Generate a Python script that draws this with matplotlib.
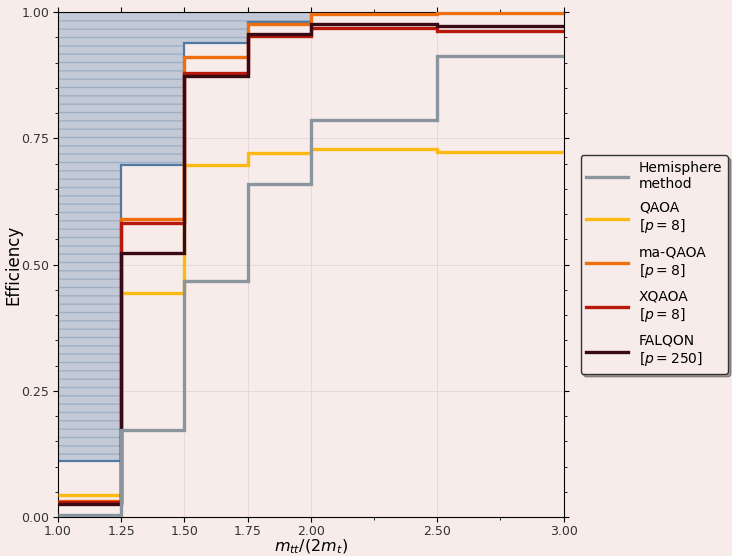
import matplotlib
matplotlib.use("Agg")
import matplotlib.pyplot as plt
import numpy as np

# bin edges in m_tt / (2 m_t)
edges = [1.0, 1.25, 1.5, 1.75, 2.0, 2.5, 3.0]

# efficiency per bin
bound = [0.111, 0.698, 0.940, 0.981, 1.0, 1.0]
hemisphere = [0.005, 0.172, 0.467, 0.659, 0.786, 0.913]
qaoa = [0.043, 0.444, 0.697, 0.721, 0.730, 0.723]
ma_qaoa = [0.032, 0.590, 0.912, 0.977, 0.997, 0.999]
xqaoa = [0.029, 0.582, 0.880, 0.953, 0.968, 0.963]
falqon = [0.025, 0.524, 0.874, 0.957, 0.976, 0.973]

labels = ["Hemisphere\nmethod", "QAOA\n[$p = 8$]", "ma-QAOA\n[$p = 8$]",
          "XQAOA\n[$p = 8$]", "FALQON\n[$p = 250$]"]
colors = ["#8a959d", "#fdb913", "#ef6e0e", "#b8180c", "#3a0a14"]

bg = "#f7ecea"
fig = plt.figure(figsize=(7.32, 5.56), dpi=100, facecolor=bg)
ax = fig.add_axes([0.079, 0.070, 0.691, 0.908], facecolor=bg)

# shaded region above the upper bound
ax.stairs(np.ones(len(bound)), edges, baseline=bound, fill=True,
          facecolor="#c3c9d6", edgecolor="#9fb0c6", hatch="--", linewidth=0, zorder=1)
ax.stairs(bound, edges, baseline=None, color="#4f7aa3", linewidth=1.6, zorder=2)

series = [hemisphere, qaoa, ma_qaoa, xqaoa, falqon]
zorders = [7, 3, 4, 5, 6]
for vals, lab, col, z in zip(series, labels, colors, zorders):
    ax.stairs(vals, edges, baseline=None, color=col, linewidth=2.4, label=lab, zorder=z)

ax.set_xlim(1.0, 3.0)
ax.set_ylim(0.0, 1.0)
ax.set_xticks([1.0, 1.25, 1.5, 1.75, 2.0, 2.5, 3.0])
ax.set_xticks([2.25, 2.75], minor=True)
ax.set_yticks([0.0, 0.25, 0.5, 0.75, 1.0])
ax.set_yticks(np.arange(0.05, 1.0, 0.05), minor=True)
ax.xaxis.set_major_formatter(matplotlib.ticker.FormatStrFormatter("%.2f"))
ax.yaxis.set_major_formatter(matplotlib.ticker.FormatStrFormatter("%.2f"))
ax.tick_params(which="both", top=True, right=True, direction="out",
               labelsize=9, labelcolor="#333333")
ax.tick_params(which="minor", length=2.5)
ax.tick_params(which="major", pad=2.5)
ax.grid(True, which="major", color="#e2dbd9", linewidth=0.7, zorder=0)
ax.set_axisbelow(True)

ax.set_xlabel("$m_{tt}/(2m_t)$", fontsize=11.5)
ax.set_ylabel("Efficiency", fontsize=12)
ax.xaxis.set_label_coords(0.5, -0.040)
ax.yaxis.set_label_coords(-0.071, 0.5)

leg = ax.legend(loc="center left", bbox_to_anchor=(1.02, 0.5), fontsize=10,
                handlelength=3.0, shadow=True, fancybox=True,
                labelspacing=0.7, facecolor=bg, edgecolor="#333333", framealpha=1)

fig.savefig("out.png", dpi=100, facecolor=bg)
